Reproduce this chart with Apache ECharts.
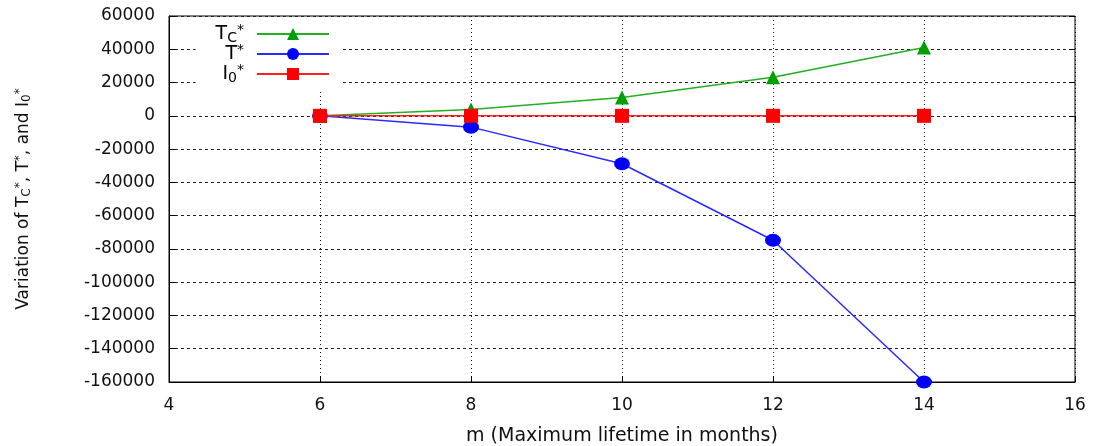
<!DOCTYPE html>
<html>
<head>
<meta charset="utf-8">
<script src="https://cdn.jsdelivr.net/npm/echarts@6/dist/echarts.min.js"></script>
<style>
  html, body { margin: 0; padding: 0; background: #fff; }
  #chart { width: 1094px; height: 446px; }
</style>
</head>
<body>
<div id="chart"></div>
<script>
// values
const mValues = [6, 8, 10, 12, 14]
const tcValues = [0, 3800, 11000, 23200, 41000]
const tValues = [0, -6800, -28800, -74800, -160000]
const i0Values = [0, 0, 0, 0, 0]

const pairs = (ys) => mValues.map((m, i) => [m, ys[i]])

const mychart = echarts.init(document.getElementById('chart'))
const font = 'DejaVu Sans'
const subRich = {
  t: { fontSize: 19, fontFamily: font, color: '#000', lineHeight: 18 },
  sub: { fontSize: 14, fontFamily: font, color: '#000', lineHeight: 10, padding: [8, 0, 0, 0] },
  sup: { fontSize: 14, fontFamily: font, color: '#000', lineHeight: 10, padding: [0, 0, 8, 0] }
}
const legendText = {
  Tc: '{t|T}{sub|C}{sup|*}',
  T: '{t|T}{sup|*}',
  I0: '{t|I}{sub|0}{sup|*}'
}

const option = {
  animation: false,
  grid: {
    left: 169,
    right: 19,
    top: 16,
    bottom: 64,
    outerBoundsMode: 'none',
    show: true,
    borderColor: '#000',
    borderWidth: 1
  },
  legend: {
    orient: 'vertical',
    align: 'right',
    right: 754,
    top: 18,
    padding: [5, 10, 5, 20],
    itemGap: -2,
    itemWidth: 72,
    itemHeight: 15,
    backgroundColor: '#fff',
    data: ['Tc', 'T', 'I0'],
    formatter: (name) => legendText[name],
    textStyle: { rich: subRich, padding: [0, 8, 0, 0] }
  },
  xAxis: [{
    type: 'value',
    min: 4,
    max: 16,
    interval: 2,
    name: 'm (Maximum lifetime in months)',
    nameLocation: 'middle',
    nameGap: 45,
    nameTextStyle: { fontSize: 19, fontFamily: font, color: '#111' },
    axisLine: { show: true, onZero: false, lineStyle: { color: '#000' } },
    axisTick: { inside: true, length: 6, lineStyle: { color: '#000' } },
    axisLabel: { fontSize: 17, fontFamily: font, color: '#111', margin: 15 },
    splitLine: { show: true, lineStyle: { type: [1, 3], color: '#222' } }
  }, {
    type: 'value',
    position: 'top',
    min: 4,
    max: 16,
    interval: 2,
    axisLine: { show: false },
    axisTick: { inside: true, length: 6, lineStyle: { color: '#000' } },
    axisLabel: { show: false },
    splitLine: { show: false }
  }],
  yAxis: [{
    type: 'value',
    min: -160000,
    max: 60000,
    interval: 20000,
    name: 'Variation of T{sub|C}{sup|*}, T{sup|*}, and I{sub|0}{sup|*}',
    nameLocation: 'middle',
    nameGap: 136,
    nameTextStyle: {
      fontSize: 17,
      fontFamily: font,
      color: '#111',
      rich: {
        sub: { fontSize: 12, fontFamily: font, color: '#111', padding: [7, 0, 0, 0] },
        sup: { fontSize: 12, fontFamily: font, color: '#111', padding: [0, 0, 7, 0] }
      }
    },
    axisLine: { show: true, lineStyle: { color: '#000' } },
    axisTick: { show: true, inside: true, length: 6, lineStyle: { color: '#000' } },
    axisLabel: {
      fontSize: 17,
      fontFamily: font,
      color: '#111',
      margin: 14,
      formatter: (v) => String(v)
    },
    splitLine: { show: true, lineStyle: { type: [3, 3], color: '#222' } }
  }, {
    type: 'value',
    position: 'right',
    min: -160000,
    max: 60000,
    interval: 20000,
    axisLine: { show: false },
    axisTick: { show: true, inside: true, length: 6, lineStyle: { color: '#000' } },
    axisLabel: { show: false },
    splitLine: { show: false }
  }],
  series: [{
    name: 'Tc',
    type: 'line',
    color: '#00a000',
    symbol: 'triangle',
    symbolSize: 14,
    lineStyle: { width: 1.5, color: '#22b022' },
    itemStyle: { color: '#00a000' },
    z: 3,
    data: pairs(tcValues)
  }, {
    name: 'T',
    type: 'line',
    color: '#0000ff',
    symbol: 'circle',
    symbolSize: [16, 13],
    lineStyle: { width: 1.5, color: '#2a2aff' },
    itemStyle: { color: '#0000ff' },
    z: 3,
    data: pairs(tValues)
  }, {
    name: 'I0',
    type: 'line',
    color: '#ff0000',
    symbol: 'rect',
    symbolSize: 14,
    lineStyle: { width: 1.5, color: '#ff2020' },
    itemStyle: { color: '#ff0000' },
    z: 4,
    data: pairs(i0Values)
  }]
}
mychart.setOption(option)
</script>
</body>
</html>
